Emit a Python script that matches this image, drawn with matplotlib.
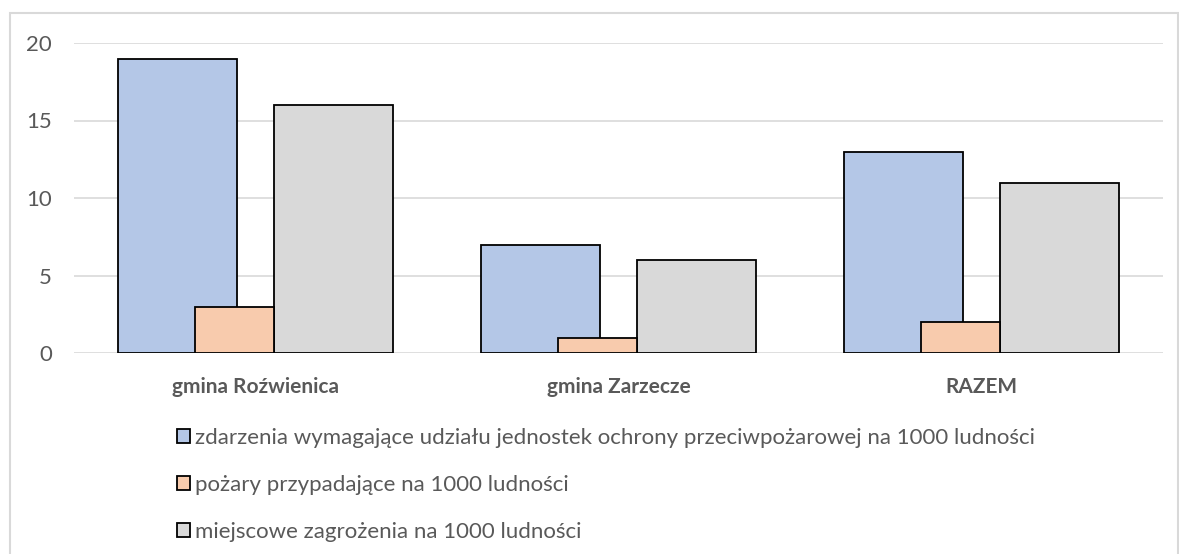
import numpy as np
import matplotlib.pyplot as plt
from matplotlib.patches import Rectangle

plt.rcParams['font.family'] = ['Lato', 'DejaVu Sans']

# data
categories = ['gmina Roźwienica', 'gmina Zarzecze', 'RAZEM']
zdarzenia = [19, 7, 13]
pozary = [3, 1, 2]
zagrozenia = [16, 6, 11]
series_labels = [
    'zdarzenia wymagające udziału jednostek ochrony przeciwpożarowej na 1000 ludności',
    'pożary przypadające na 1000 ludności',
    'miejscowe zagrożenia na 1000 ludności',
]
yticks = [0, 5, 10, 15, 20]

text_col = '#595959'
grid_col = '#d9d9d9'

fig = plt.figure(figsize=(11.79, 5.54), dpi=100)
fig.patches.append(Rectangle((10 / 1179, -0.01), 1168 / 1179, 1 - 13 / 554 + 0.01,
                             transform=fig.transFigure, fill=False,
                             edgecolor=grid_col, linewidth=1.5))

ax = fig.add_axes([74 / 1179, 1 - 353 / 554, 1089 / 1179, 310 / 554])
x = np.arange(len(categories))

# Excel-style overlapping columns
b1 = ax.bar(x - 0.216, zdarzenia, width=0.328, color='#b4c7e7',
            edgecolor='black', linewidth=1.3, zorder=2)
b3 = ax.bar(x + 0.215, zagrozenia, width=0.330, color='#d9d9d9',
            edgecolor='black', linewidth=1.3, zorder=2)
b2 = ax.bar(x - 0.059, pozary, width=0.218, color='#f8cbad',
            edgecolor='black', linewidth=1.3, zorder=3)

ax.set_xlim(-0.5, 2.5)
ax.set_ylim(0, 20)
ax.set_yticks(yticks)
ax.set_yticklabels([str(v) for v in yticks], fontsize=16, color=text_col)
ax.set_xticks(x)
ax.set_xticklabels(categories, fontsize=15, fontweight='bold', color=text_col)
ax.tick_params(length=0)
ax.tick_params(axis='y', pad=16)
ax.tick_params(axis='x', pad=17)
ax.yaxis.grid(True, color=grid_col, linewidth=1.2, zorder=0)
ax.set_axisbelow(True)
for s in ax.spines.values():
    s.set_visible(False)

fig.legend([b1, b2, b3], series_labels, loc='upper left',
           bbox_to_anchor=(177 / 1179, 1 - 428 / 554), frameon=False,
           fontsize=16, labelcolor=text_col, handlelength=0.6,
           handleheight=0.6, handletextpad=0.2, labelspacing=1.22,
           borderaxespad=0, borderpad=0)

fig.savefig('out.png', dpi=100)
